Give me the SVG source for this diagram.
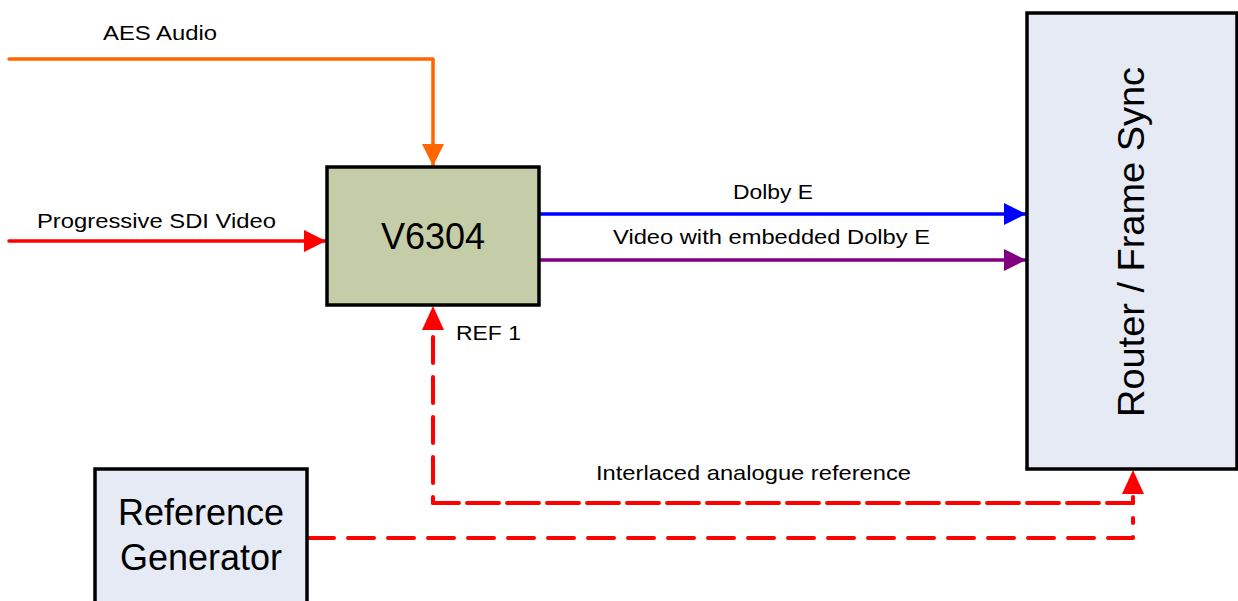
<svg xmlns="http://www.w3.org/2000/svg" width="1238" height="601" viewBox="0 0 1238 601">
<defs>
<style>
.box{stroke:#000;stroke-width:3.5}
.lbl{font-family:"Liberation Sans",Arial,sans-serif;font-size:21px;fill:#000}
.big{font-family:"Liberation Sans",Arial,sans-serif;font-size:36px;fill:#000}
.dash{fill:none;stroke:#ff0000;stroke-width:4;stroke-dasharray:26 14;stroke-linecap:round;stroke-linejoin:round}
</style>
<marker id="aOr" viewBox="0 0 10 10" refX="10" refY="5" markerWidth="22" markerHeight="22" markerUnits="userSpaceOnUse" orient="auto"><path d="M0,0L10,5L0,10z" fill="#ff6600"/></marker>
<marker id="aRed" viewBox="0 0 10 10" refX="10" refY="5" markerWidth="22" markerHeight="22" markerUnits="userSpaceOnUse" orient="auto"><path d="M0,0L10,5L0,10z" fill="#ff0000"/></marker>
<marker id="aBlue" viewBox="0 0 10 10" refX="10" refY="5" markerWidth="22" markerHeight="22" markerUnits="userSpaceOnUse" orient="auto"><path d="M0,0L10,5L0,10z" fill="#0000ff"/></marker>
<marker id="aPur" viewBox="0 0 10 10" refX="10" refY="5" markerWidth="22" markerHeight="22" markerUnits="userSpaceOnUse" orient="auto"><path d="M0,0L10,5L0,10z" fill="#800080"/></marker>
</defs>
<rect width="1238" height="601" fill="#fff"/>
<g id="connectors">
<polyline points="9,59 433,59 433,166" fill="none" stroke="#ff6600" stroke-width="3.5" stroke-linejoin="round" stroke-linecap="round" marker-end="url(#aOr)"/>
<line x1="9" y1="241" x2="326" y2="241" stroke="#ff0000" stroke-width="3.5" stroke-linecap="round" marker-end="url(#aRed)"/>
<line x1="540" y1="214" x2="1026" y2="214" stroke="#0000ff" stroke-width="3.5" marker-end="url(#aBlue)"/>
<line x1="540" y1="260" x2="1026" y2="260" stroke="#800080" stroke-width="3.5" marker-end="url(#aPur)"/>
<path class="dash" d="M1133,503 L433,503 L433,330"/>
<path d="M433,306 L444,330 L422,330 Z" fill="#ff0000"/>
<path class="dash" d="M433,503 L1133,503 L1133,494"/>
<path d="M1133,470 L1144,494 L1122,494 Z" fill="#ff0000"/>
<path class="dash" d="M308,538 L1133,538 L1133,518"/>
<text class="lbl" x="103" y="40" textLength="114" lengthAdjust="spacingAndGlyphs">AES Audio</text>
<text class="lbl" x="37" y="228" textLength="239" lengthAdjust="spacingAndGlyphs">Progressive SDI Video</text>
<text class="lbl" x="733" y="199" textLength="80" lengthAdjust="spacingAndGlyphs">Dolby E</text>
<text class="lbl" x="613" y="244" textLength="317" lengthAdjust="spacingAndGlyphs">Video with embedded Dolby E</text>
<text class="lbl" x="456" y="340" textLength="65" lengthAdjust="spacingAndGlyphs">REF 1</text>
<text class="lbl" x="596" y="480" textLength="315" lengthAdjust="spacingAndGlyphs">Interlaced analogue reference</text>
</g>
<g id="v6304">
<rect class="box" x="327" y="167" width="212" height="138" fill="#c4cca8"/>
<text class="big" x="433" y="249" text-anchor="middle">V6304</text>
</g>
<g id="router">
<rect class="box" x="1027" y="13" width="210" height="456" fill="#e6eaf5"/>
<text class="big" transform="translate(1144,242) rotate(-90)" text-anchor="middle" textLength="350" lengthAdjust="spacingAndGlyphs">Router / Frame Sync</text>
</g>
<g id="refgen">
<rect class="box" x="95" y="469" width="212" height="140" fill="#e6eaf5"/>
<text class="big" x="201" y="525" text-anchor="middle">Reference</text>
<text class="big" x="201" y="570" text-anchor="middle">Generator</text>
</g>
</svg>
